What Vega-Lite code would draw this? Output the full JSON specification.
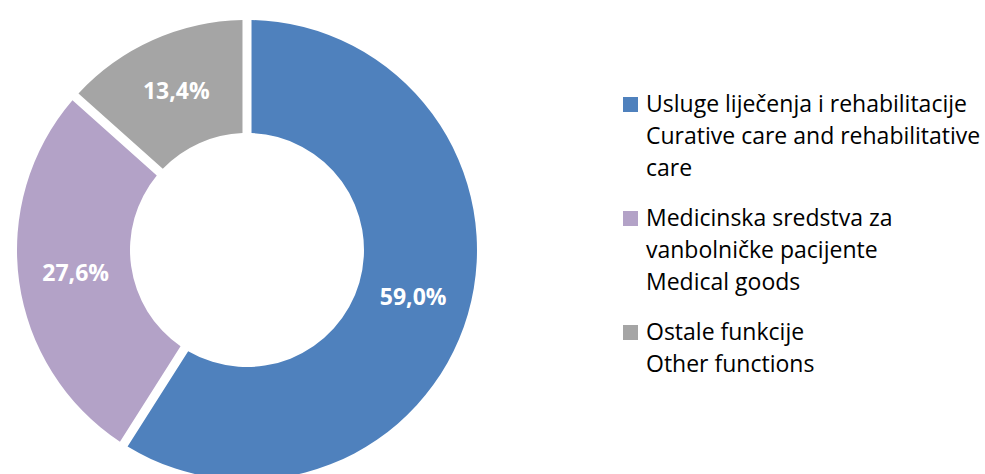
{
  "$schema": "https://vega.github.io/schema/vega-lite/v6.json",
  "width": 494,
  "height": 448,
  "autosize": {"type": "none"},
  "padding": {"left": 0, "top": 26, "right": 491, "bottom": 0},
  "background": "white",
  "config": {
    "view": {"stroke": null},
    "font": "Open Sans",
    "style": {"guide-label": {"lineHeight": 32}}
  },
  "data": {
    "values": [
      {"category": "Usluge liječenja i rehabilitacije|Curative care and rehabilitative|care", "value": 59.0, "label": "59,0%", "order": 1},
      {"category": "Medicinska sredstva za|vanbolničke pacijente|Medical goods", "value": 27.6, "label": "27,6%", "order": 2},
      {"category": "Ostale funkcije|Other functions", "value": 13.4, "label": "13,4%", "order": 3}
    ]
  },
  "encoding": {
    "theta": {"field": "value", "type": "quantitative", "stack": true},
    "order": {"field": "order", "type": "quantitative"}
  },
  "layer": [
    {
      "mark": {"type": "arc", "outerRadius": 230, "innerRadius": 117, "padAngle": 0.035},
      "encoding": {
        "color": {
          "field": "category",
          "type": "nominal",
          "scale": {
            "domain": [
              "Usluge liječenja i rehabilitacije|Curative care and rehabilitative|care",
              "Medicinska sredstva za|vanbolničke pacijente|Medical goods",
              "Ostale funkcije|Other functions"
            ],
            "range": ["#4F81BD", "#B3A2C7", "#A5A5A5"]
          },
          "legend": {
            "orient": "none",
            "legendX": 619,
            "legendY": 67,
            "title": null,
            "padding": 0,
            "labelExpr": "split(datum.label, '|')",
            "labelFont": "Open Sans",
            "labelFontSize": 23,
            "labelColor": "black",
            "labelLimit": 400,
            "labelOffset": 4,
            "symbolType": "square",
            "symbolSize": 225,
            "symbolStrokeWidth": 0,
            "symbolOpacity": 1,
            "rowPadding": 26
          }
        }
      }
    },
    {
      "mark": {"type": "text", "radius": 173, "fontSize": 23, "fontWeight": "bold", "font": "Open Sans"},
      "encoding": {
        "text": {"field": "label"},
        "detail": {"field": "category"},
        "color": {"value": "white"}
      }
    }
  ]
}
